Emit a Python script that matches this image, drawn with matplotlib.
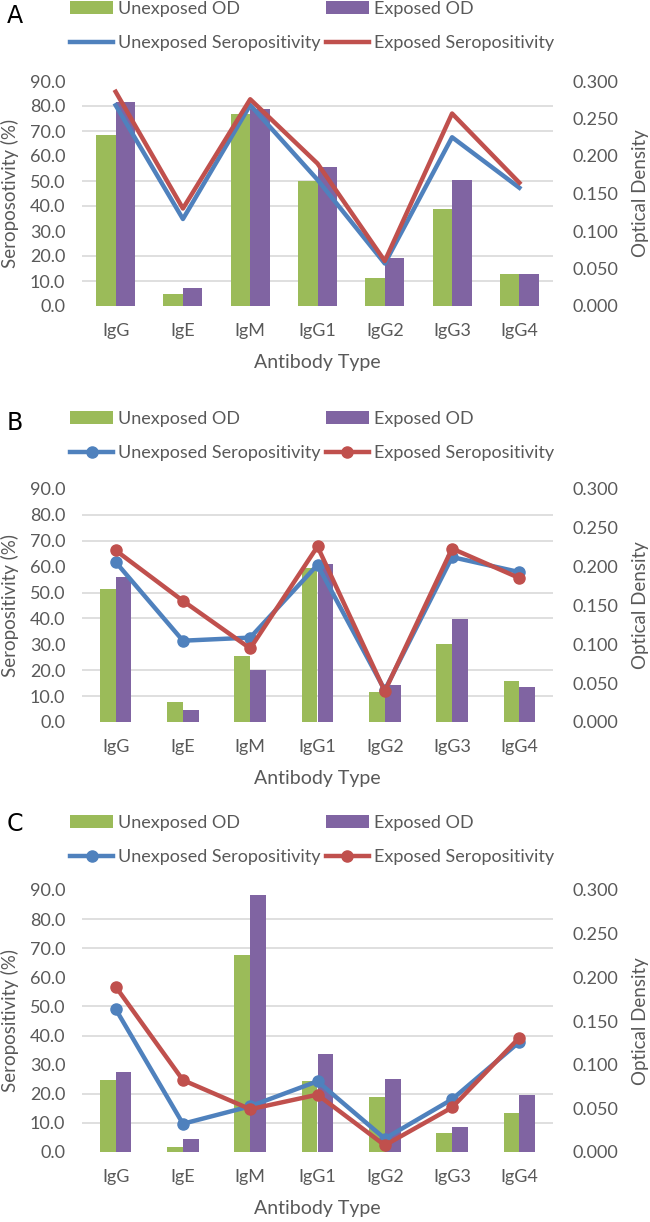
import numpy as np
import matplotlib
matplotlib.use('Agg')
from matplotlib import pyplot as plt

plt.rcParams['font.family'] = ['Lato', 'DejaVu Sans']

categories = ['IgG', 'IgE', 'IgM', 'IgG1', 'IgG2', 'IgG3', 'IgG4']

# panel A
od_unexp_a = [0.228, 0.016, 0.256, 0.167, 0.038, 0.129, 0.043]
od_exp_a = [0.272, 0.024, 0.263, 0.186, 0.064, 0.168, 0.043]
sero_unexp_a = [80.3, 34.8, 80.4, 50.5, 17.0, 67.5, 47.3]
sero_exp_a = [85.7, 39.0, 82.7, 57.0, 18.0, 77.0, 49.3]

# panel B
od_unexp_b = [0.171, 0.026, 0.085, 0.198, 0.039, 0.100, 0.053]
od_exp_b = [0.187, 0.015, 0.067, 0.204, 0.047, 0.132, 0.045]
sero_unexp_b = [61.8, 31.4, 32.6, 60.7, 12.3, 63.7, 57.9]
sero_exp_b = [66.3, 46.8, 28.4, 67.8, 11.9, 67.0, 55.6]

# panel C
od_unexp_c = [0.083, 0.006, 0.226, 0.081, 0.063, 0.022, 0.045]
od_exp_c = [0.092, 0.015, 0.294, 0.112, 0.084, 0.029, 0.065]
sero_unexp_c = [49.1, 9.7, 15.7, 24.3, 4.6, 18.1, 37.8]
sero_exp_c = [56.8, 24.7, 14.7, 19.7, 2.3, 15.3, 39.3]

GREEN = '#9BBB59'
PURPLE = '#8064A2'
BLUE = '#4F81BD'
RED = '#C0504D'
GREY = '#595959'
GRID = '#D9D9D9'
FS = 13


def panel(fig, rect, letter, letter_top, legend_top, ylabel, od_u, od_e, s_u, s_e, bw, markers):
    x = np.arange(len(categories))
    ax_od = fig.add_axes(rect)
    ax_s = ax_od.twinx()

    # bars on the optical density axis (drawn underneath)
    ax_od.bar(x - bw / 2, od_u, bw, color=GREEN, zorder=3, label='Unexposed OD')
    ax_od.bar(x + bw / 2, od_e, bw, color=PURPLE, zorder=3, label='Exposed OD')
    ax_od.set_ylim(0, 0.3)
    ax_od.set_yticks(np.arange(0, 0.301, 0.05))
    ax_od.set_yticklabels(['%.3f' % v for v in np.arange(0, 0.301, 0.05)])
    ax_od.set_yticks(np.linspace(0, 0.3, 10), minor=True)
    ax_od.grid(which='minor', axis='y', color=GRID, lw=1.2, zorder=0)
    ax_od.yaxis.tick_right()
    ax_od.yaxis.set_label_position('right')
    ax_od.set_ylabel('Optical Density', color=GREY, fontsize=13.5, labelpad=10)
    ax_od.set_xlim(-0.5, len(categories) - 0.5)
    ax_od.set_xticks(x)
    ax_od.set_xticklabels(categories)
    ax_od.set_xlabel('Antibody Type', color=GREY, fontsize=14, labelpad=11)
    ax_od.tick_params(axis='both', which='both', length=0, colors=GREY, labelsize=FS)
    ax_od.tick_params(axis='y', pad=14)
    ax_od.tick_params(axis='x', pad=12)

    # seropositivity lines on top
    ax_s.set_zorder(ax_od.get_zorder() + 1)
    ax_s.patch.set_visible(False)
    mk = 'o' if markers else None
    ax_s.plot(x, s_u, color=BLUE, lw=3.2, marker=mk, ms=8, label='Unexposed Seropositivity')
    ax_s.plot(x, s_e, color=RED, lw=3.2, marker=mk, ms=8, label='Exposed Seropositivity')
    ax_s.set_ylim(0, 90)
    ax_s.set_yticks(np.arange(0, 91, 10))
    ax_s.set_yticklabels(['%.1f' % v for v in np.arange(0, 91, 10)])
    ax_s.yaxis.tick_left()
    ax_s.yaxis.set_label_position('left')
    ax_s.set_ylabel(ylabel, color=GREY, fontsize=13.5, labelpad=8)
    ax_s.tick_params(axis='y', length=0, colors=GREY, labelsize=FS, pad=12)

    for a in (ax_od, ax_s):
        for sp in a.spines.values():
            sp.set_visible(False)

    h1, l1 = ax_od.get_legend_handles_labels()
    h2, l2 = ax_s.get_legend_handles_labels()
    handles = [h1[0], h2[0], h1[1], h2[1]]
    labels = [l1[0], l2[0], l1[1], l2[1]]
    fig.legend(handles, labels, ncol=2, loc='upper left',
               bbox_to_anchor=(70 / 650, 1 - legend_top / 1222), frameon=False,
               fontsize=FS, labelcolor=GREY, handlelength=2.4,
               handletextpad=0.25, columnspacing=0.3, labelspacing=1.0,
               borderaxespad=0, borderpad=0)

    fig.text(7 / 650, 1 - letter_top / 1222, letter, fontsize=17, color='black',
             family='DejaVu Sans', va='top', ha='left')


def main():
    fig = plt.figure(figsize=(6.5, 12.22), dpi=100)
    left = 82 / 650
    width = (553 - 82) / 650

    def rect(top_px, bottom_px):
        return [left, 1 - bottom_px / 1222, width, (bottom_px - top_px) / 1222]

    panel(fig, rect(81, 306), 'A', 4, 1, 'Seroposotivity (%)',
          od_unexp_a, od_exp_a, sero_unexp_a, sero_exp_a, 0.29, False)
    panel(fig, rect(489, 722), 'B', 411, 411, 'Seropositivity (%)',
          od_unexp_b, od_exp_b, sero_unexp_b, sero_exp_b, 0.235, True)
    panel(fig, rect(890, 1152), 'C', 812, 815, 'Seropositivity (%)',
          od_unexp_c, od_exp_c, sero_unexp_c, sero_exp_c, 0.235, True)

    fig.savefig('out.png', dpi=100)


if __name__ == '__main__':
    main()
